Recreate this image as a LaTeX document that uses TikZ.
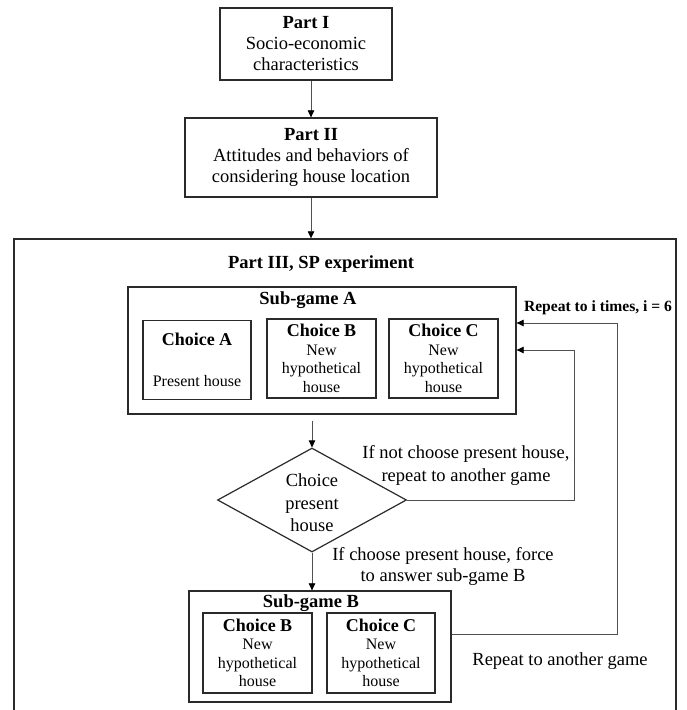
\documentclass[tikz,border=0pt]{standalone}
\usepackage{fontspec}
\setmainfont{Liberation Serif}
\usetikzlibrary{shapes.geometric,arrows.meta}
\definecolor{boxcol}{HTML}{2A2A2A}
\definecolor{conncol}{HTML}{505050}
\newcommand{\bigtxt}{\fontsize{18.5}{21}\selectfont}
\newcommand{\smalltxt}{\fontsize{16}{18.5}\selectfont}
\newcommand{\choicetitle}{\fontsize{18}{20}\selectfont\bfseries}
\tikzset{
  box/.style={draw=boxcol, line width=1.3pt, inner sep=0pt, align=center},
  choicebox/.style={box, line width=1.2pt, font=\smalltxt},
  conn/.style={draw=conncol, line width=0.7pt},
  arr/.style={conn, -{Triangle[length=7pt,width=6.5pt,color=black]}},
  lbl/.style={inner sep=0pt, align=center, font=\bigtxt},
}
\begin{document}
\begin{tikzpicture}[x=1pt,y=-1pt]
\clip (0,0) rectangle (687,710);
\fill[white] (0,0) rectangle (687,710);

% Part I and II
\node[box, font=\bigtxt, minimum width=172pt, minimum height=72pt] (p1) at (306,44)
  {\textbf{Part I}\\Socio-economic\\characteristics};
\node[box, font=\bigtxt, minimum width=252pt, minimum height=79pt] (p2) at (311,157.5)
  {\textbf{Part II}\\Attitudes and behaviors of\\considering house location};

% outer frame
\node[box, line width=1.4pt, minimum width=662pt, minimum height=500pt] (outer) at (345,489) {};

\node[lbl, font=\bigtxt\bfseries] (p3) at (321,264) {Part III, SP experiment};

% Sub-game A
\node[box, minimum width=388pt, minimum height=127pt] (subA) at (322,350.5) {};
\node[lbl, font=\bigtxt\bfseries] (subAl) at (308,300) {Sub-game A};
\node[choicebox, minimum width=108pt, minimum height=79pt] (cA) at (197,360)
  {{\choicetitle Choice A}\\[22pt]Present house};
\node[choicebox, minimum width=109pt, minimum height=79pt] (cB) at (321.5,358.5)
  {{\choicetitle Choice B}\\New\\hypothetical\\house};
\node[choicebox, minimum width=109pt, minimum height=79pt] (cC) at (443.5,358.5)
  {{\choicetitle Choice C}\\New\\hypothetical\\house};

\node[lbl, font=\fontsize{15.6}{18}\selectfont\bfseries] (rep) at (598,308) {Repeat to i times, i = 6};

% decision
\node[draw=boxcol, line width=1.2pt, shape=diamond, inner sep=0pt,
      minimum width=189pt, minimum height=104pt] (dia) at (312,500) {};
\node[lbl, font=\fontsize{18.5}{22.5}\selectfont] (diat) at (312,503) {Choice\\present\\house};

\node[lbl, font=\fontsize{18.5}{23}\selectfont] (ifnot) at (466,465)
  {If not choose present house,\\repeat to another game};
\node[lbl, font=\fontsize{18.5}{21}\selectfont] (ifyes) at (443,566.5)
  {If choose present house, force\\to answer sub-game B};

% Sub-game B
\node[box, minimum width=262pt, minimum height=111pt] (subB) at (320,646.5) {};
\node[lbl, font=\bigtxt\bfseries] (subBl) at (311,603) {Sub-game B};
\node[choicebox, minimum width=109pt, minimum height=80pt] (bB) at (257.5,653)
  {{\choicetitle Choice B}\\New\\hypothetical\\house};
\node[choicebox, minimum width=108pt, minimum height=80pt] (bC) at (381,653)
  {{\choicetitle Choice C}\\New\\hypothetical\\house};

\node[lbl] (rep2) at (560,661) {Repeat to another game};

% connectors
\draw[arr] (p1.south -| p2.north) -- (p2.north);
\draw[arr] (p2.south) -- (p2.south |- outer.north);
\draw[arr, shorten <=6pt] (subA.south -| dia.north) -- (dia.north);
\draw[arr] (dia.south) -- (dia.south |- subB.north);

\coordinate (loopA) at (574,350);
\coordinate (loopB) at (617,323);
\draw[arr] (dia.east) -| (loopA) -- (loopA -| subA.east);
\draw[arr] ([yshift=12.5pt]subB.east) -| (loopB) -- (loopB -| subA.east);
\end{tikzpicture}
\end{document}
